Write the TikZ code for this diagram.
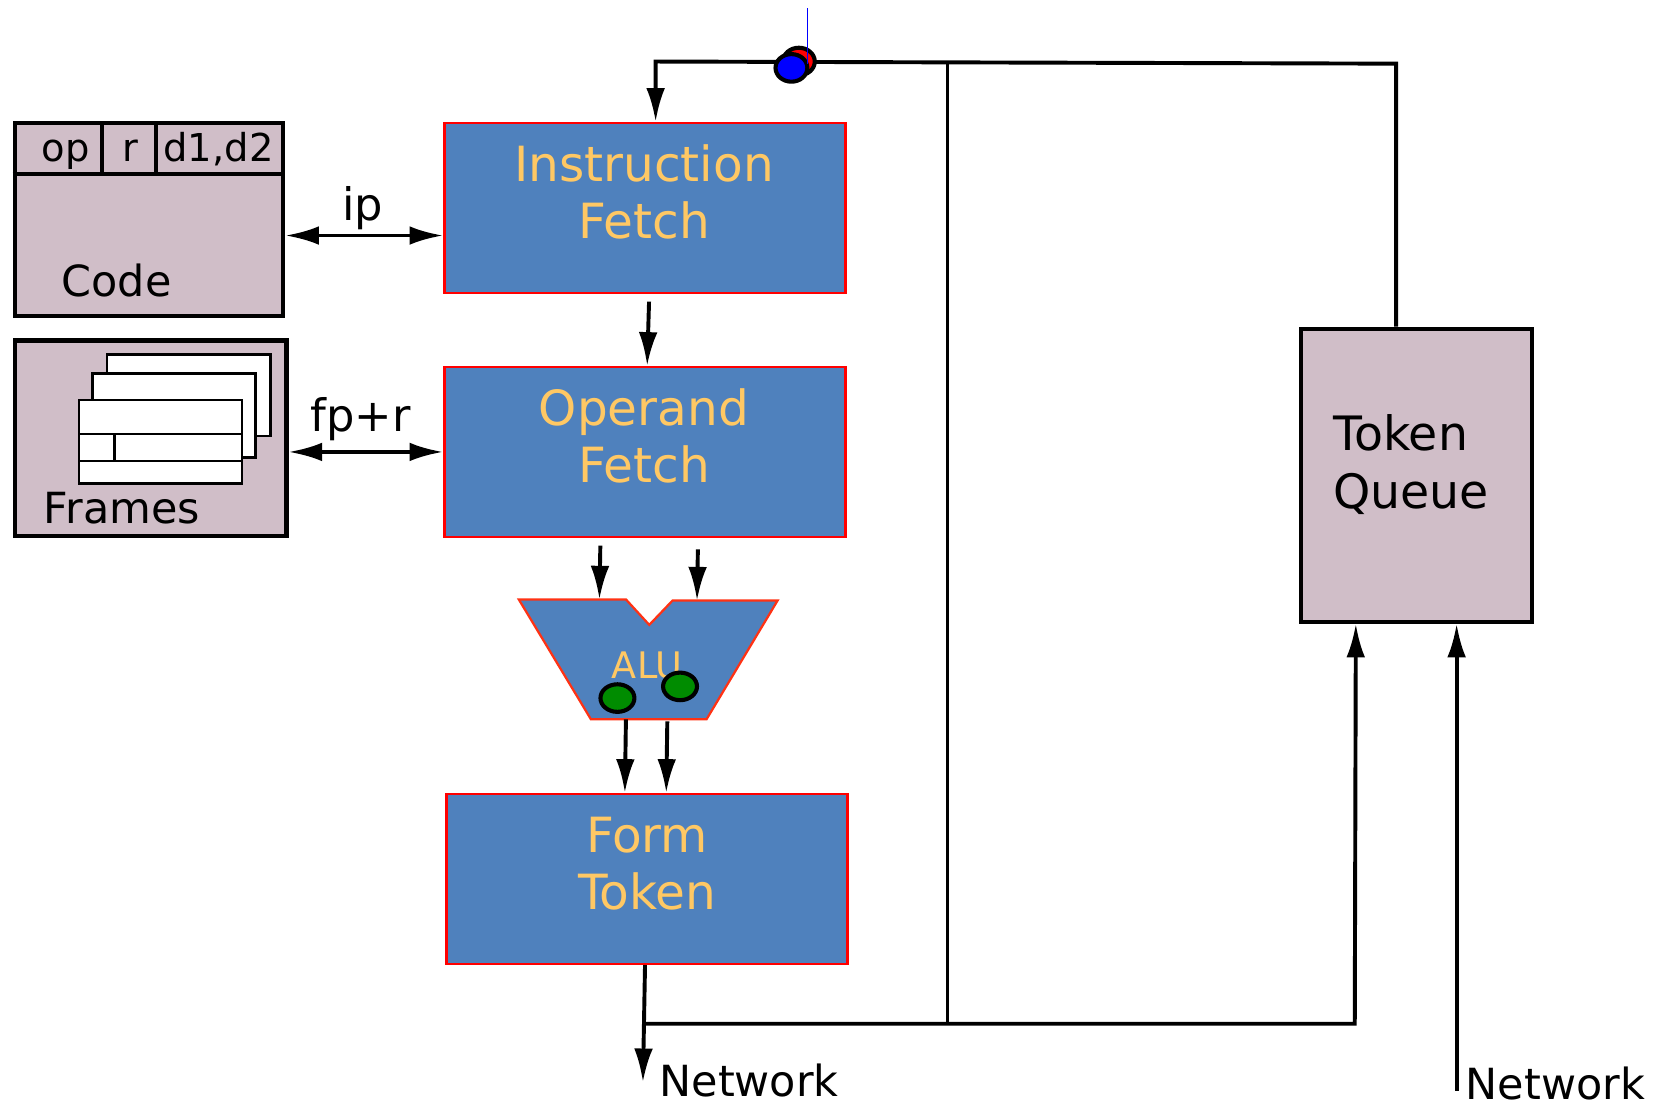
\documentclass[tikz,border=0pt]{standalone}
\usepackage{fontspec}
\setmainfont{DejaVu Sans}
\usetikzlibrary{arrows.meta}
\definecolor{boxblue}{RGB}{79,129,189}
\definecolor{mauve}{RGB}{208,190,200}
\definecolor{gold}{RGB}{255,200,100}
\definecolor{alured}{RGB}{255,50,20}
\definecolor{dotgreen}{RGB}{0,140,0}
\begin{document}
\begin{tikzpicture}[x=0.01cm,y=-0.01cm,
  stage/.style={draw=red, line width=0.7pt, fill=boxblue, minimum width=3.78cm, minimum height=1.6cm, inner sep=0pt},
  stagetext/.style={text=gold, font=\fontsize{13}{15.4}\selectfont, align=center},
  store/.style={draw=black, line width=1.1pt, fill=mauve, inner sep=0pt},
  conn/.style={line width=1.05pt, -{Latex[length=9pt,width=5pt]}},
  dconn/.style={line width=1.05pt, {Latex[length=9pt,width=5pt]}-{Latex[length=9pt,width=5pt]}},
  lbl/.style={font=\fontsize{12}{14}\selectfont, inner sep=0pt},
  small/.style={font=\fontsize{11.5}{14}\selectfont, inner sep=0pt},
  hdr/.style={font=\fontsize{10.3}{12}\selectfont, inner sep=0pt, anchor=base},
  frame/.style={draw=black, line width=0.7pt, fill=white},
  dot/.style={draw=black, line width=1.1pt, fill=dotgreen}
]
\useasboundingbox (0,0) rectangle (1560,1042.5);

% ---- stages
\node[stage] (if) at (608,196) {};
\node[stagetext] (iftext) at (607,181) {Instruction\\Fetch};
\node[stage] (of) at (608,426) {};
\node[stagetext] (oftext) at (607,411) {Operand\\Fetch};
\node[stage] (ft) at (610,828.5) {};
\node[stagetext] (fttext) at (610,814) {Form\\Token};

% ---- Code store
\node[store, minimum width=2.53cm, minimum height=1.82cm] (code) at (140.5,207) {};
\draw[line width=1.1pt] (code.west |- 0,164) -- (code.east |- 0,164);
\draw[line width=1.1pt] (96,116) -- (96,164);
\draw[line width=1.1pt] (147,116) -- (147,164);
\node[hdr] (op) at (62,152) {op};
\node[hdr] (rr) at (123,152) {r};
\node[hdr] (dd) at (206,152) {d1,d2};
\node[small] (codetext) at (110,264) {Code};

% ---- Frames store
\node[store, minimum width=2.56cm, minimum height=1.84cm] (frames) at (142,413) {};
\draw[frame] (101,334) rectangle (255,411);
\draw[frame] (87,352) rectangle (241,431);
\draw[frame] (74.5,377) rectangle (228,456);
\draw[line width=0.7pt] (74.5,409) -- (228,409);
\draw[line width=0.7pt] (74.5,434.5) -- (228,434.5);
\draw[line width=0.7pt] (108,409) -- (108,434.5);
\node[small] (framestext) at (115,479) {Frames};

% ---- Token queue
\node[store, minimum width=2.18cm, minimum height=2.76cm] (tq) at (1335,448) {};
\node[font=\fontsize{12.7}{15.4}\selectfont, align=left, anchor=west, inner sep=0pt] (tqtext) at (1256,438) {Token\\Queue};

% ---- ALU
\coordinate (a1) at (489,565);
\coordinate (a2) at (590,565);
\coordinate (a3) at (612,589);
\coordinate (a4) at (634,566);
\coordinate (a5) at (733,566);
\coordinate (a6) at (666,678);
\coordinate (a7) at (557,678);
\draw[draw=alured, line width=0.6pt, fill=boxblue] (a1) -- (a2) -- (a3) -- (a4) -- (a5) -- (a6) -- (a7) -- cycle;
\node[text=gold, font=\fontsize{9.8}{12}\selectfont] (alutext) at (610,627) {ALU};
\draw[dot] (582,658) ellipse [x radius=16, y radius=13];
\draw[dot] (641,647) ellipse [x radius=16, y radius=13];

% ---- labels on links
\node[lbl] (iplbl) at (342,196) {ip};
\node[lbl] (fplbl) at (340,395) {fp+r};
\coordinate (ipy) at (0,222);
\draw[dconn] (code.east |- ipy) -- (if.west |- ipy);
\draw[dconn] (frames.east |- of.west) -- (of.west);

% ---- vertical flow
\draw[conn, shorten <=2pt] (if.south -| 612,0) -- (of.north -| 610,0);
\draw[conn, shorten <=2pt] (of.south -| 566,0) -- (565,565);
\draw[conn, shorten <=3pt] (of.south -| 658,0) -- (657,566);
\draw[conn] (590,678) -- (ft.north -| 589,0);
\draw[conn] (629,680) -- (ft.north -| 628,0);

% ---- network out and feedback
\coordinate (j1) at (608,965);
\coordinate (j2) at (893,965);
\coordinate (j3) at (1277,965);
\coordinate (netout) at (606,1020);
\draw[conn] (ft.south -| 608,0) -- (netout);
\draw[conn] (j1) -- (j3) -- (tq.south -| 1278,0);
\coordinate (t1) at (618,58);
\coordinate (t2) at (893,58);
\coordinate (t3) at (1316,60);
\draw[line width=0.8pt] (t2) -- (j2);
\draw[conn] (tq.north -| 1316,0) -- (t3) -- (t1) -- (if.north -| 618,0);
\node[small, anchor=base west] (net1) at (621,1034) {Network};

\coordinate (netin) at (1373,1028);
\draw[conn] (netin) -- (tq.south -| 1373,0);
\node[small, anchor=base west] (net2) at (1381,1036) {Network};

% ---- top markers
\draw[draw=black, line width=1.1pt, fill=red] (753,58) ellipse [x radius=15, y radius=13];
\draw[draw=black, line width=1.1pt, fill=blue] (746,64) ellipse [x radius=15, y radius=13];
\draw[blue, line width=0.3pt] (761,8) -- (761,60);
\end{tikzpicture}
\end{document}
